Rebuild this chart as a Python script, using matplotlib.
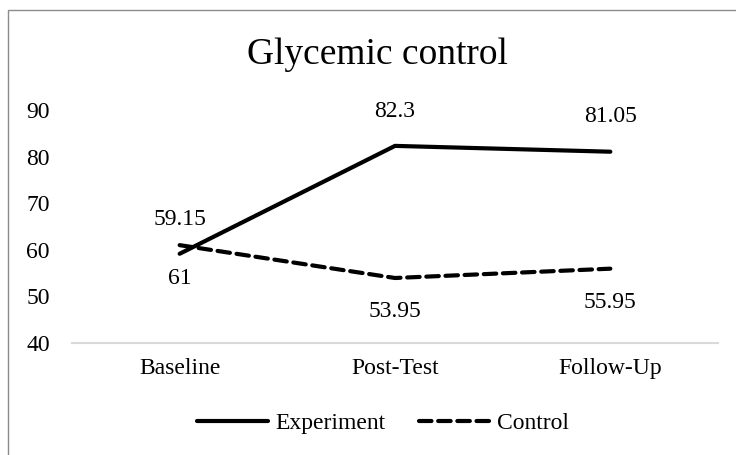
import matplotlib
matplotlib.use('Agg')
import matplotlib.pyplot as plt
from matplotlib.patches import Rectangle

plt.rcParams['font.family'] = ['Liberation Serif', 'DejaVu Serif']

categories = ['Baseline', 'Post-Test', 'Follow-Up']
experiment = [59.15, 82.3, 81.05]
control = [61, 53.95, 55.95]
y_ticks = [40, 50, 60, 70, 80, 90]

fig = plt.figure(figsize=(7.36, 4.55), dpi=100)
ax = fig.add_axes([72 / 736, 1 - 343 / 455, 646 / 736, 233 / 455])

x = range(len(categories))
ax.plot(x, experiment, color='black', linewidth=3, solid_capstyle='round',
        solid_joinstyle='round', label='Experiment')
ax.plot(x, control, color='black', linewidth=3, linestyle=(0, (3, 1.6)),
        dash_capstyle='round', label='Control')

# подписи значений: эксперимент сверху, контроль снизу
for i, v in enumerate(experiment):
    ax.annotate(f'{v:g}', (i, v), xytext=(0, 25), textcoords='offset points',
                ha='center', va='center', fontsize=17)
for i, v in enumerate(control):
    ax.annotate(f'{v:g}', (i, v), xytext=(0, -24), textcoords='offset points',
                ha='center', va='center', fontsize=17)

ax.set_xlim(-0.5, len(categories) - 0.5)
ax.set_ylim(40, 90)
ax.set_yticks(y_ticks)
ax.set_xticks(list(x))
ax.set_xticklabels(categories)
ax.tick_params(axis='both', length=0, labelsize=17)
ax.tick_params(axis='y', pad=16)
ax.tick_params(axis='x', pad=11)
for side in ['top', 'right', 'left']:
    ax.spines[side].set_visible(False)
ax.spines['bottom'].set_color('#d9d9d9')
ax.spines['bottom'].set_linewidth(1.5)

fig.text(377 / 736, 1 - 55 / 455, 'Glycemic control', ha='center', va='center',
         fontsize=27)

fig.legend(loc='center', bbox_to_anchor=(383 / 736, 1 - 423 / 455), ncol=2,
           frameon=False, fontsize=17, handlelength=3.0, handletextpad=0.3,
           columnspacing=1.4)

# рамка области диаграммы (видны только верх и левый край)
fig.patches.append(Rectangle((8 / 736, -0.1), 1.2, 1 - 10 / 455 + 0.1,
                             transform=fig.transFigure, fill=False,
                             edgecolor='#8c8c8c', linewidth=1))

fig.savefig('out.png', dpi=100)
